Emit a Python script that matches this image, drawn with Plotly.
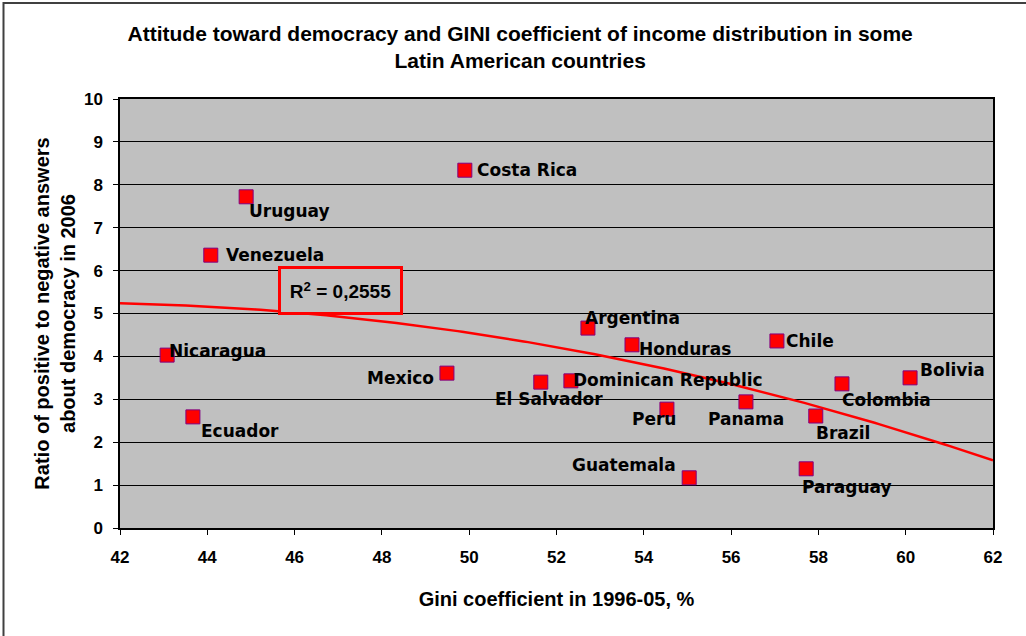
import numpy as np
import plotly.graph_objects as go

countries = ["Costa Rica", "Uruguay", "Venezuela", "Nicaragua", "Ecuador", "Mexico",
             "El Salvador", "Dominican Republic", "Argentina", "Honduras", "Peru",
             "Guatemala", "Panama", "Chile", "Paraguay", "Brazil", "Colombia", "Bolivia"]
gini = [49.9, 44.89, 44.08, 43.08, 43.67, 49.49,
        51.64, 52.33, 52.72, 53.73, 54.53,
        55.04, 56.34, 57.05, 57.72, 57.94, 58.54, 60.1]
ratio = [8.34, 7.72, 6.36, 4.03, 2.59, 3.61,
         3.40, 3.43, 4.66, 4.27, 2.77,
         1.17, 2.94, 4.36, 1.38, 2.61, 3.36, 3.50]

# label placement: (xanchor, yanchor, xshift, yshift)
label_pos = {
    "Costa Rica": ("left", "middle", 10, 0),
    "Uruguay": ("left", "middle", 1, -14),
    "Venezuela": ("left", "middle", 13, 0),
    "Nicaragua": ("left", "middle", 0, 4),
    "Ecuador": ("left", "middle", 6, -14),
    "Mexico": ("right", "middle", -11, -5),
    "El Salvador": ("center", "middle", 8, -17),
    "Dominican Republic": ("left", "middle", 0, 1),
    "Argentina": ("left", "middle", -5, 10),
    "Honduras": ("left", "middle", 5, -4),
    "Peru": ("right", "middle", 11, -10),
    "Guatemala": ("right", "middle", -11, 13),
    "Panama": ("center", "middle", 0, -17),
    "Chile": ("left", "middle", 7, 0),
    "Paraguay": ("left", "middle", -6, -18),
    "Brazil": ("left", "middle", -2, -17),
    "Colombia": ("left", "middle", -2, -16),
    "Bolivia": ("left", "middle", 8, 8),
}

x_ticks = list(range(42, 63, 2))
y_ticks = list(range(0, 11))

# quadratic trend line fitted to the data
coef = np.polyfit(gini, ratio, 2)
xs = np.linspace(42, 62, 200)
ys = np.polyval(coef, xs)

fig = go.Figure()
fig.add_trace(go.Scatter(x=xs, y=ys, mode="lines",
                         line=dict(color="#FF0000", width=2.5),
                         hoverinfo="skip", showlegend=False))
fig.add_trace(go.Scatter(x=gini, y=ratio, mode="markers",
                         marker=dict(symbol="square", size=14, color="#FF0000",
                                     line=dict(color="#800080", width=1)),
                         text=countries, showlegend=False))

label_font = dict(family="DejaVu Sans", size=17, color="black", weight="bold")
for c, gx, ry in zip(countries, gini, ratio):
    xa, ya, xsf, ysf = label_pos[c]
    fig.add_annotation(x=gx, y=ry, text=c, showarrow=False,
                       xanchor=xa, yanchor=ya, xshift=xsf, yshift=ysf,
                       font=label_font)

fig.add_annotation(x=47.04, y=5.54, text="R<sup>2</sup> = 0,2555", showarrow=False,
                   xanchor="center", yanchor="middle", width=117, height=41,
                   bordercolor="#FF0000", borderwidth=3, bgcolor="#C0C0C0",
                   font=dict(family="Liberation Sans", size=19, color="black", weight="bold"))

# outer chart frame
fig.add_shape(type="rect", xref="paper", yref="paper",
              x0=(3.5 - 120) / 873, x1=(1040 - 120) / 873,
              y0=-(650 - 528) / 429, y1=1 + (99 - 3) / 429,
              line=dict(color="#404040", width=2), layer="below")

axis_font = dict(family="Liberation Sans", size=17, color="black", weight="bold")
title_font = dict(family="Liberation Sans", size=20, color="black", weight="bold")

fig.update_layout(
    width=1026, height=636,
    margin=dict(l=120, r=33, t=99, b=108),
    paper_bgcolor="white", plot_bgcolor="#C0C0C0",
    title=dict(text="Attitude toward democracy and GINI coefficient of income distribution in some<br>Latin American countries",
               x=0.507, xanchor="center", y=0.936, yanchor="top",
               font=dict(family="Liberation Sans", size=21, color="black", weight="bold")),
    xaxis=dict(range=[42, 62], tickvals=x_ticks, showgrid=False, zeroline=False,
               showline=True, linecolor="black", linewidth=1.5, mirror=True,
               ticks="outside", ticklen=5, tickcolor="black", ticklabelstandoff=8,
               tickfont=axis_font,
               title=dict(text="Gini coefficient in 1996-05, %", standoff=26,
                          font=title_font)),
    yaxis=dict(range=[0, 10], tickvals=y_ticks, showgrid=True, gridcolor="black", gridwidth=1,
               zeroline=False, showline=True, linecolor="black", linewidth=1.5, mirror=True,
               ticks="outside", ticklen=5, tickcolor="black", ticklabelstandoff=7,
               tickfont=axis_font,
               title=dict(text="Ratio of positive to negative answers<br>about democracy in 2006",
                          standoff=3, font=title_font)),
)

fig.write_html("out.html", post_script="document.body.style.margin='0';",
               config={"displayModeBar": False})
